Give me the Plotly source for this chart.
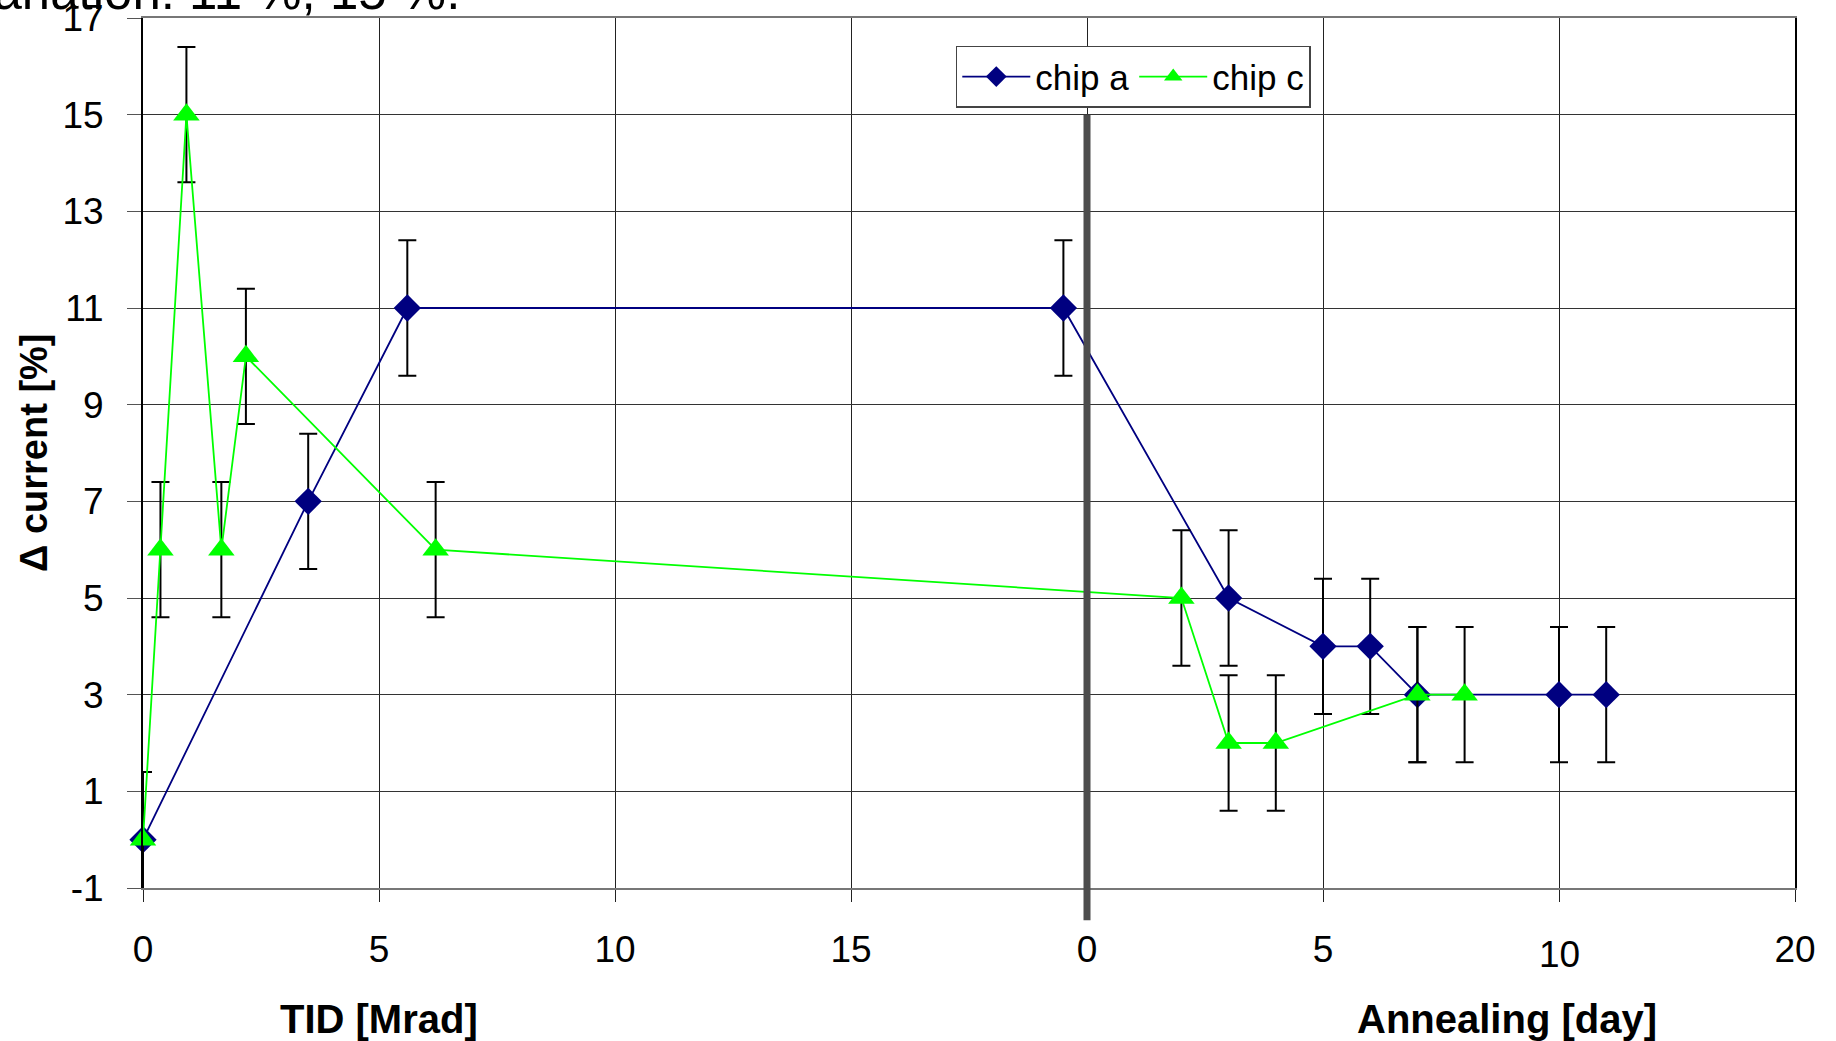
import plotly.graph_objects as go

# ---- data (x: TID in Mrad on 0..20, annealing days shown as 20 + day) ----
chip_a_x = [0, 3.5, 5.6, 19.5, 23, 25, 26, 27, 30, 31]
chip_a_y = [0, 7, 11, 11, 5, 4, 4, 3, 3, 3]
chip_c_x = [0, 0.37, 0.92, 1.66, 2.18, 6.2, 22, 23, 24, 27, 28]
chip_c_y = [0, 6, 15, 6, 10, 6, 5, 2, 2, 3, 3]
err = 1.4

x_tickvals = [0, 5, 10, 15, 20, 25, 30, 35]
x_ticktext = ["0", "5", "10", "15", "0", "5", "", "20"]
y_tickvals = [-1, 1, 3, 5, 7, 9, 11, 13, 15, 17]
y_ticktext = ["-1", "1", "3", "5", "7", "9", "11", "13", "15", "17"]
y_range = [-1, 17]
x_range = [0, 35]
divider_x = 20
divider_top = 15

FONT = "Liberation Sans, Arial, sans-serif"

fig = go.Figure()
fig.add_trace(go.Scatter(
    x=chip_a_x, y=chip_a_y, name="chip a", mode="lines+markers",
    line=dict(color="#000080", width=1.8),
    marker=dict(symbol="diamond", size=21, color="#000080"),
    error_y=dict(type="constant", value=err, color="black", thickness=2, width=9),
    cliponaxis=False,
))
fig.add_trace(go.Scatter(
    x=chip_c_x, y=chip_c_y, name="chip c", mode="lines+markers",
    line=dict(color="#00ff00", width=1.8),
    marker=dict(symbol="triangle-up", size=23, color="#00ff00"),
    error_y=dict(type="constant", value=err, color="black", thickness=2, width=9),
    cliponaxis=False,
))

frac_top = (divider_top - y_range[0]) / (y_range[1] - y_range[0])
fig.add_shape(type="line", xref="x", yref="paper", x0=divider_x, x1=divider_x,
              y0=-0.037, y1=frac_top, line=dict(color="#4d4d4d", width=7), layer="above")

fig.update_layout(
    width=1836, height=1041,
    margin=dict(l=143, r=41, t=18, b=153, autoexpand=False),
    paper_bgcolor="white", plot_bgcolor="white",
    font=dict(family=FONT, color="black", size=37),
    showlegend=True,
    legend=dict(orientation="h", x=0.492, y=0.968, xanchor="left", yanchor="top",
                bgcolor="white", bordercolor="#444", borderwidth=1.5,
                itemwidth=68,
                font=dict(size=35, family=FONT)),
)
fig.update_xaxes(
    range=x_range, tickmode="array", tickvals=x_tickvals, ticktext=x_ticktext,
    showgrid=True, gridcolor="#222", gridwidth=1,
    ticks="outside", ticklen=12, tickcolor="#222", tickwidth=1,
    ticklabelstandoff=16, ticklabeloverflow="allow", automargin=False,
    showline=True, linecolor="#777", linewidth=2, mirror=True,
    zeroline=False, tickfont=dict(size=37),
)
fig.update_yaxes(
    range=y_range, tickmode="array", tickvals=y_tickvals, ticktext=y_ticktext,
    showgrid=True, gridcolor="#333", gridwidth=1,
    ticks="outside", ticklen=14, tickcolor="#555", tickwidth=1,
    ticklabelstandoff=16, ticklabeloverflow="allow", automargin=False,
    showline=True, linecolor="black", linewidth=2, mirror=True,
    zeroline=False, tickfont=dict(size=37),
)

# lowered "10" label on annealing axis
fig.add_annotation(x=30, y=0, xref="x", yref="paper", text="10", showarrow=False,
                   yanchor="top", yshift=-44, font=dict(size=37))
# axis titles
fig.add_annotation(x=5, y=0, xref="x", yref="paper", text="<b>TID [Mrad]</b>", showarrow=False,
                   yanchor="middle", yshift=-131, font=dict(size=40))
fig.add_annotation(x=28.9, y=0, xref="x", yref="paper", text="<b>Annealing [day]</b>", showarrow=False,
                   yanchor="middle", yshift=-131, font=dict(size=40))
fig.add_annotation(x=-0.066, y=0.5, xref="paper", yref="paper", text="<b>Δ current [%]</b>",
                   showarrow=False, textangle=-90, xanchor="center", yanchor="middle", font=dict(size=38))
# cut-off title at the top
fig.add_annotation(x=0.193, y=0.9955, xref="paper", yref="paper", text="variation: 11 %, 15 %.",
                   showarrow=False, xanchor="right", yanchor="bottom", font=dict(size=51))

fig.write_html("out.html")
